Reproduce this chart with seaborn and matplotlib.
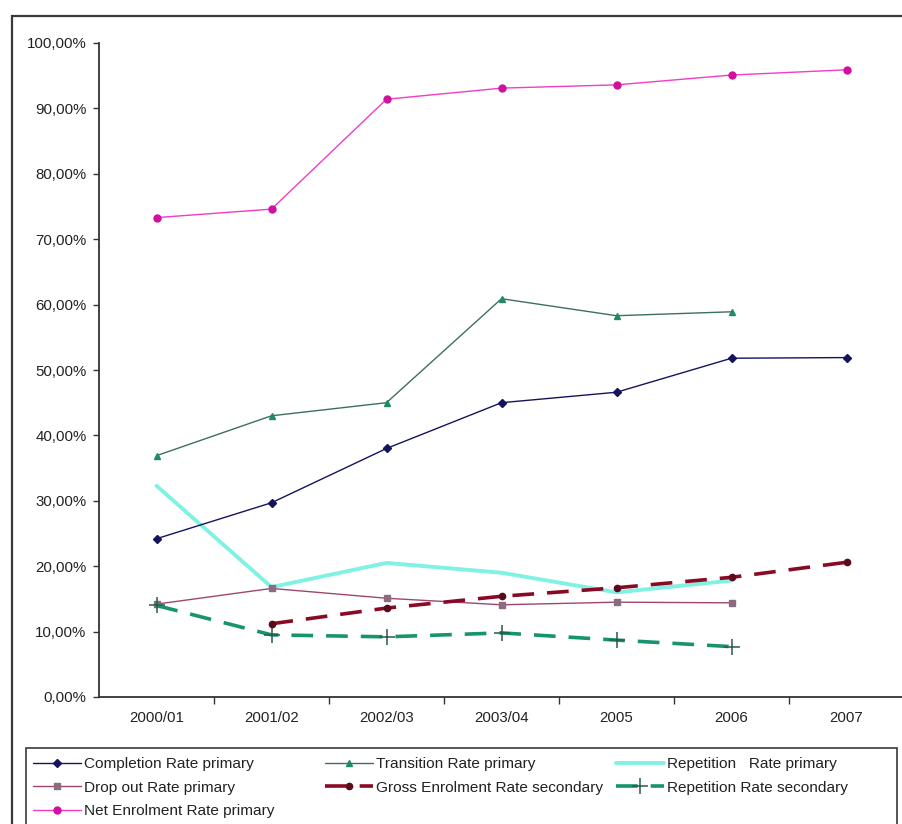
import numpy as np
import pandas as pd
import seaborn as sns
import matplotlib
matplotlib.use("Agg")
import matplotlib.pyplot as plt
from matplotlib.patches import Rectangle
from matplotlib.ticker import FixedLocator, FuncFormatter

# ---- data -------------------------------------------------------------
years = ["2000/01", "2001/02", "2002/03", "2003/04", "2005", "2006", "2007"]

completion_primary = [24.2, 29.7, 38.0, 45.0, 46.6, 51.8, 51.9]
transition_primary = [36.9, 43.0, 45.0, 60.9, 58.3, 58.9, np.nan]
repetition_primary = [32.3, 16.8, 20.5, 19.0, 16.0, 17.8, np.nan]
dropout_primary = [14.2, 16.6, 15.1, 14.1, 14.5, 14.4, np.nan]
gross_enrol_secondary = [np.nan, 11.2, 13.6, 15.4, 16.7, 18.3, 20.6]
repetition_secondary = [14.0, 9.5, 9.2, 9.8, 8.7, 7.7, np.nan]
net_enrol_primary = [73.3, 74.6, 91.4, 93.1, 93.6, 95.1, 95.9]

series_names = [
    "Completion Rate primary",
    "Transition Rate primary",
    "Repetition   Rate primary",
    "Drop out Rate primary",
    "Gross Enrolment Rate secondary",
    "Repetition Rate secondary",
    "Net Enrolment Rate primary",
]
series_values = [
    completion_primary, transition_primary, repetition_primary,
    dropout_primary, gross_enrol_secondary, repetition_secondary,
    net_enrol_primary,
]

# ---- styles -----------------------------------------------------------
styles = {
    "Completion Rate primary": dict(color="#14145e", marker="D", ms=4.2, lw=1.0, ls="-", mfc="#14145e", mec="#14145e"),
    "Transition Rate primary": dict(color="#3d6f5e", marker="^", ms=5, lw=1.0, ls="-", mfc="#1f8a68", mec="#1f8a68"),
    "Repetition   Rate primary": dict(color="#7ff2e4", marker="", ms=0, lw=2.8, ls="-", mfc="#7ff2e4", mec="#7ff2e4"),
    "Drop out Rate primary": dict(color="#a0466e", marker="s", ms=4.2, lw=1.0, ls="-", mfc="#8a6c80", mec="#8a6c80"),
    "Gross Enrolment Rate secondary": dict(color="#8a0a25", marker="o", ms=4.5, lw=2.6, ls=(0, (6, 3.6)), mfc="#5a0a1a", mec="#5a0a1a"),
    "Repetition Rate secondary": dict(color="#16946e", marker="+", ms=11, lw=2.6, ls=(0, (6, 3.6)), mfc="#16946e", mec="#2a5a48"),
    "Net Enrolment Rate primary": dict(color="#f03cc8", marker="o", ms=5, lw=1.0, ls="-", mfc="#d0109e", mec="#d0109e"),
}

rows = []
for name, vals in zip(series_names, series_values):
    for i, v in enumerate(vals):
        rows.append({"series": name, "pos": i, "year": years[i], "value": v})
df = pd.DataFrame(rows).dropna()

# ---- figure -----------------------------------------------------------
W, H = 902, 824
sns.set_theme(style="white")
plt.rcParams["font.family"] = ["Liberation Sans", "DejaVu Sans"]
fig = plt.figure(figsize=(W / 100, H / 100), dpi=100)
fig.patch.set_facecolor("white")

def fx(px):
    return px / W

def fy(py):
    return 1 - py / H

ax = fig.add_axes([fx(99), fy(697), fx(904) - fx(99), fy(43) - fy(697)])
ax.set_facecolor("white")

# draw order: primary lines first, dashed secondary on top
draw_order = [
    "Repetition   Rate primary", "Drop out Rate primary",
    "Completion Rate primary", "Transition Rate primary",
    "Repetition Rate secondary", "Gross Enrolment Rate secondary",
    "Net Enrolment Rate primary",
]
handles = {}
for name in draw_order:
    st = styles[name]
    sub = df[df["series"] == name]
    kw = dict(color=st["color"], linewidth=st["lw"], linestyle=st["ls"])
    if st["marker"]:
        kw.update(marker=st["marker"], markersize=st["ms"],
                  markerfacecolor=st["mfc"], markeredgecolor=st["mec"],
                  markeredgewidth=1.0 if st["marker"] != "+" else 1.1)
    sns.lineplot(data=sub, x="pos", y="value", ax=ax, **kw)
    handles[name] = ax.lines[-1]

ax.set_xlim(-0.5, len(years) - 0.5)
ax.set_ylim(0, 100)
ax.set_xlabel("")
ax.set_ylabel("")

ax.yaxis.set_major_locator(FixedLocator(np.arange(0, 101, 10)))
ax.yaxis.set_major_formatter(FuncFormatter(lambda v, p: f"{v:.2f}%".replace(".", ",")))
ax.xaxis.set_major_locator(FixedLocator(range(len(years))))
ax.xaxis.set_major_formatter(FuncFormatter(lambda v, p: years[int(round(v))] if 0 <= round(v) < len(years) else ""))
ax.xaxis.set_minor_locator(FixedLocator(np.arange(0.5, len(years) - 0.5, 1)))

ax.tick_params(axis="y", which="major", direction="out", length=4, width=1.0,
               color="#333333", pad=5, labelsize=10.8, labelcolor="#222222", left=True)
ax.tick_params(axis="x", which="major", length=0, pad=10, labelsize=10.8, labelcolor="#222222", bottom=True)
ax.tick_params(axis="x", which="minor", direction="out", length=5, width=1.0, color="#333333", bottom=True)

for side in ("top", "right"):
    ax.spines[side].set_visible(False)
for side in ("left", "bottom"):
    ax.spines[side].set_color("#333333")
    ax.spines[side].set_linewidth(1.3)
ax.grid(False)

# outer chart frame
fig.patches.append(Rectangle((fx(12), -0.2), 1.5, fy(16) + 0.2, transform=fig.transFigure,
                             fill=False, edgecolor="#3a3a3a", linewidth=1.6, zorder=0))
# legend frame
fig.patches.append(Rectangle((fx(26), -0.2), fx(897) - fx(26), fy(748) + 0.2, transform=fig.transFigure,
                             fill=False, edgecolor="#3a3a3a", linewidth=1.2, zorder=0))

# legend, laid out as three fixed-width columns
columns = [
    ["Completion Rate primary", "Drop out Rate primary", "Net Enrolment Rate primary"],
    ["Transition Rate primary", "Gross Enrolment Rate secondary"],
    ["Repetition   Rate primary", "Repetition Rate secondary"],
]
col_x = [33, 325, 616]
for cx, names in zip(col_x, columns):
    fig.legend([handles[n] for n in names], names, loc="upper left",
               bbox_to_anchor=(fx(cx), fy(757)), bbox_transform=fig.transFigure,
               frameon=False, borderpad=0, borderaxespad=0, handlelength=3.1,
               handletextpad=0.2, labelspacing=0.62, fontsize=11.1, numpoints=1,
               labelcolor="#222222")

fig.savefig("out.png", dpi=100, facecolor="white")
